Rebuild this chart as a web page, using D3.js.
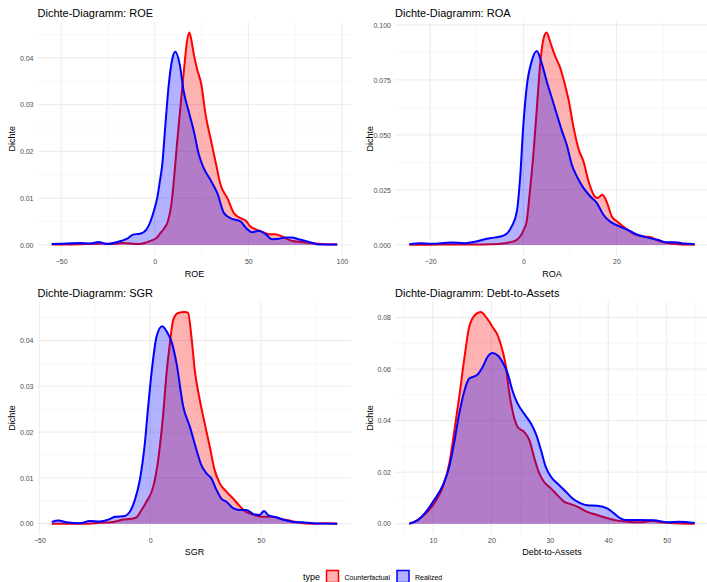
<!DOCTYPE html>
<html>
<head>
<meta charset="utf-8">
<script src="https://cdn.jsdelivr.net/npm/d3@7"></script>
<style>
  body { margin: 0; background: #fff; }
  svg { display: block; font-family: "Liberation Sans", Arial, sans-serif; }
</style>
</head>
<body>
<div id="chart-container"></div>
<script>
// density curves, [x, density]
const roeCounterfactual = [
  [-55, 0.0001], [-45, 0.0001], [-35, 0.0002], [-28, 0.0003], [-22, 0.0002], [-18, 0.0004],
  [-13, 0.0003], [-8, 0.0002], [-4, 0.0006], [-2, 0.0009], [1, 0.0015], [3, 0.0025],
  [5, 0.0035], [7, 0.005], [9, 0.009], [10.5, 0.015], [12, 0.0221], [13.5, 0.0285],
  [14.7, 0.0336], [16, 0.039], [17, 0.0428], [18.5, 0.0454], [19.5, 0.044], [20.9, 0.0407],
  [22.7, 0.0375], [24.9, 0.0343], [27.2, 0.0278], [29.8, 0.0228], [32.5, 0.0178], [35.2, 0.0128],
  [38.8, 0.01], [42.3, 0.0068], [45.9, 0.0057], [48.6, 0.0052], [51, 0.004], [54, 0.0033],
  [57.4, 0.0028], [61, 0.0023], [64.5, 0.0023], [68, 0.0018], [73, 0.0009], [78.6, 0.0006],
  [84, 0.0004], [89, 0.0002], [97.5, 0.0001]
];
const roeRealized = [
  [-55, 0.0002], [-47, 0.0003], [-40, 0.0004], [-34.5, 0.0003], [-30, 0.0006], [-25.6, 0.0002],
  [-20.3, 0.0006], [-15, 0.0013], [-11.5, 0.0022], [-8, 0.0024], [-5.9, 0.0027], [-3.5, 0.0039],
  [-2.3, 0.005], [-0.5, 0.0072], [1.3, 0.01], [2.7, 0.0135], [4, 0.0171], [5.7, 0.0257],
  [7.5, 0.0343], [9.3, 0.0396], [11, 0.0413], [13.4, 0.0385], [15.5, 0.0328], [18.2, 0.0285],
  [20.9, 0.0243], [23.6, 0.0193], [26.2, 0.0164], [29.8, 0.0139], [33.4, 0.0111], [37, 0.0068],
  [40.5, 0.0057], [45.9, 0.005], [48.6, 0.0037], [52, 0.0027], [55.7, 0.003], [59.2, 0.0023],
  [62.7, 0.0012], [66.3, 0.0013], [69.8, 0.0016], [73.3, 0.0016], [76.9, 0.0012], [82, 0.0007],
  [87.5, 0.0001], [97.5, 0.0001]
];
const roaCounterfactual = [
  [-24.5, 0.0001], [-20, 0.0001], [-15, 0.0002], [-10, 0.0002], [-7, 0.0003], [-4.9, 0.0005],
  [-2.9, 0.0012], [-1.5, 0.0022], [-0.7, 0.0038], [0, 0.0065], [0.7, 0.0106], [1.4, 0.0243],
  [2.2, 0.0425], [2.9, 0.0623], [3.6, 0.082], [4.3, 0.0935], [5, 0.0965], [5.8, 0.092],
  [6.8, 0.0859], [7.9, 0.0806], [9, 0.0722], [9.7, 0.0661], [10.8, 0.0532], [11.9, 0.0433],
  [12.9, 0.038], [14, 0.0289], [15.1, 0.0228], [15.8, 0.0213], [17, 0.0228], [18, 0.019],
  [19, 0.0129], [20.4, 0.0102], [22.4, 0.0068], [23.8, 0.0049], [26, 0.0038], [27.4, 0.0035],
  [28.9, 0.002], [31, 0.0008], [33.2, 0.0003], [36.8, 0.0001]
];
const roaRealized = [
  [-24.5, 0.0003], [-22, 0.0008], [-19.8, 0.0005], [-15.5, 0.0011], [-12.6, 0.0008], [-10.4, 0.0014],
  [-8.3, 0.0026], [-6.3, 0.0033], [-4.3, 0.0042], [-2.5, 0.0084], [-1.4, 0.0152], [-0.7, 0.0304],
  [0, 0.0547], [0.7, 0.0715], [1.8, 0.0836], [2.9, 0.0881], [3.8, 0.0836], [5, 0.0745],
  [6.1, 0.0669], [7.2, 0.0593], [8.3, 0.0517], [9.3, 0.0456], [10.4, 0.0365], [11.5, 0.0311],
  [12.9, 0.0259], [14.4, 0.022], [15.8, 0.019], [17.2, 0.0137], [18.6, 0.0106], [20.4, 0.0086],
  [22.4, 0.0068], [24.5, 0.0046], [26.7, 0.0033], [28.9, 0.0023], [30.7, 0.0012], [32.5, 0.0012],
  [34.6, 0.0006], [36.8, 0.0003]
];
const sgrCounterfactual = [
  [-44.4, 0], [-30.2, 0], [-22.7, 0.0002], [-16.7, 0.0004], [-12.2, 0.0009], [-8.4, 0.0011],
  [-6.2, 0.0014], [-3.9, 0.003], [-1.7, 0.0048], [1.4, 0.0081], [3.6, 0.0139], [5.9, 0.0241],
  [7.4, 0.0329], [8.9, 0.0394], [10.4, 0.0445], [12.6, 0.046], [15.6, 0.0462], [17.1, 0.046],
  [18.6, 0.0409], [20.1, 0.0336], [22.4, 0.027], [24.6, 0.0219], [26.9, 0.0168], [29.1, 0.0117],
  [31.4, 0.0088], [34.4, 0.007], [37.4, 0.0055], [39.6, 0.0043], [42.6, 0.0028], [46.4, 0.002],
  [50.9, 0.0015], [55.4, 0.0015], [58.4, 0.0011], [62.9, 0.0007], [67.4, 0.0002], [73.4, 0],
  [79.4, 0.0001], [84.4, 0]
];
const sgrRealized = [
  [-44.4, 0.0004], [-41.4, 0.0007], [-37.7, 0.0003], [-31.7, 0.0001], [-27.2, 0.0006], [-22.7, 0.0005],
  [-18.9, 0.0009], [-15.9, 0.0015], [-11.4, 0.0017], [-9.2, 0.0026], [-6.9, 0.0052], [-4.7, 0.0095],
  [-2.4, 0.0176], [-0.9, 0.0256], [1.1, 0.035], [2.9, 0.0409], [5.4, 0.0431], [7.4, 0.042],
  [9.6, 0.0398], [11.9, 0.035], [14.9, 0.0256], [17.9, 0.0212], [20.9, 0.0161], [23.1, 0.0128],
  [25.4, 0.011], [27.6, 0.0099], [29.9, 0.0074], [32.1, 0.0055], [34.4, 0.0048], [37.4, 0.0034],
  [40.4, 0.003], [43.4, 0.003], [47.1, 0.002], [49.4, 0.0019], [51.4, 0.0028], [53.2, 0.0019],
  [56.9, 0.0014], [60.7, 0.0008], [64.4, 0.0004], [68.9, 0.0003], [73.4, 0.0001], [84.4, 0]
];
const debtCounterfactual = [
  [5.95, 0], [7.4, 0.0014], [8.8, 0.004], [10.2, 0.0079], [11.7, 0.0143], [12.8, 0.0234],
  [13.6, 0.035], [14.5, 0.0492], [15.4, 0.0646], [16.2, 0.0763], [17.4, 0.0814], [18.2, 0.0821],
  [19.1, 0.0801], [20.2, 0.0763], [21.1, 0.073], [21.9, 0.0672], [22.5, 0.0608], [23, 0.0517],
  [23.6, 0.044], [24.5, 0.0375], [25.6, 0.0356], [26.5, 0.0324], [27.3, 0.0259], [28.2, 0.0195],
  [29, 0.0163], [30.2, 0.0137], [31.3, 0.0111], [32.5, 0.0085], [33.6, 0.0076], [34.7, 0.0066],
  [36.4, 0.0046], [38.1, 0.0034], [39.9, 0.0021], [41.6, 0.0012], [43.3, 0.0008], [45.6, 0.0006],
  [47.5, 0.0012], [49, 0.0006], [50.7, 0.0003], [54.8, 0]
];
const debtRealized = [
  [5.95, 0], [7.4, 0.0014], [8.8, 0.0046], [10.2, 0.0092], [11.7, 0.015], [12.8, 0.0221],
  [13.6, 0.0311], [14.5, 0.0427], [15.4, 0.0517], [16.2, 0.0563], [17.6, 0.0578], [18.5, 0.0608],
  [19.3, 0.0646], [20.2, 0.0662], [21.1, 0.0653], [21.9, 0.0627], [22.8, 0.0582], [23.6, 0.0517],
  [24.5, 0.0466], [25.6, 0.0427], [26.8, 0.0388], [27.6, 0.035], [28.5, 0.0285], [29.3, 0.0221],
  [30.2, 0.0182], [31.3, 0.0156], [32.5, 0.013], [33.9, 0.0098], [35.3, 0.0079], [36.4, 0.0072],
  [38.1, 0.007], [39.9, 0.0059], [41, 0.004], [42.1, 0.0021], [43, 0.0014], [45, 0.0014],
  [47.8, 0.0013], [50.1, 0.0006], [52.1, 0.0008], [54.8, 0.0003]
];

const types = ["Counterfactual", "Realized"];
const variables = ["ROE", "ROA", "SGR", "Debt-to-Assets"];

const roeXTicks = [-50, 0, 50, 100];
const roeYTicks = [0, 0.01, 0.02, 0.03, 0.04];
const roaXTicks = [-20, 0, 20];
const roaYTicks = [0, 0.025, 0.05, 0.075, 0.1];
const sgrXTicks = [-50, 0, 50];
const sgrYTicks = [0, 0.01, 0.02, 0.03, 0.04];
const debtXTicks = [10, 20, 30, 40, 50];
const debtYTicks = [0, 0.02, 0.04, 0.06, 0.08];

const width = 707;
const height = 582;
const colors = { Counterfactual: "#ff0000", Realized: "#0000ff" };

const panels = [
  { name: variables[0], series: [roeCounterfactual, roeRealized], xTicks: roeXTicks, yTicks: roeYTicks, yFmt: ".2f",
    box: { left: 37.5, right: 351.5, top: 22, bottom: 255.5 } },
  { name: variables[1], series: [roaCounterfactual, roaRealized], xTicks: roaXTicks, yTicks: roaYTicks, yFmt: ".3f",
    box: { left: 395, right: 709, top: 22, bottom: 255.5 } },
  { name: variables[2], series: [sgrCounterfactual, sgrRealized], xTicks: sgrXTicks, yTicks: sgrYTicks, yFmt: ".2f",
    box: { left: 37.5, right: 351.5, top: 301.5, bottom: 534.3 } },
  { name: variables[3], series: [debtCounterfactual, debtRealized], xTicks: debtXTicks, yTicks: debtYTicks, yFmt: ".2f",
    box: { left: 395, right: 709, top: 301.5, bottom: 534.3 } },
];

// minor breaks halfway between majors, kept inside the domain
function minorTicks(ticks, domain) {
  const step = ticks[1] - ticks[0];
  const out = [];
  for (let v = ticks[0] - step / 2; v <= domain[1]; v += step) {
    if (v >= domain[0]) out.push(v);
  }
  return out;
}

const svg = d3
  .select("#chart-container")
  .append("svg")
  .attr("width", width)
  .attr("height", height);

panels.forEach((p) => {
  const b = p.box;
  const all = p.series.flat();
  const [xmin, xmax] = d3.extent(all, (d) => d[0]);
  const ymax = d3.max(all, (d) => d[1]);
  const xpad = (xmax - xmin) * 0.05;
  const x = d3.scaleLinear().domain([xmin - xpad, xmax + xpad]).range([b.left, b.right]);
  const y = d3.scaleLinear().domain([-ymax * 0.05, ymax * 1.05]).range([b.bottom, b.top]);

  const g = svg.append("g");

  // grid
  minorTicks(p.xTicks, x.domain()).forEach((v) => {
    g.append("line").attr("x1", x(v)).attr("x2", x(v)).attr("y1", b.top).attr("y2", b.bottom)
      .attr("stroke", "#f2f2f2").attr("stroke-width", 0.6);
  });
  minorTicks(p.yTicks, y.domain()).forEach((v) => {
    g.append("line").attr("x1", b.left).attr("x2", b.right).attr("y1", y(v)).attr("y2", y(v))
      .attr("stroke", "#f2f2f2").attr("stroke-width", 0.6);
  });
  p.xTicks.forEach((v) => {
    g.append("line").attr("x1", x(v)).attr("x2", x(v)).attr("y1", b.top).attr("y2", b.bottom)
      .attr("stroke", "#ebebeb").attr("stroke-width", 1);
  });
  p.yTicks.forEach((v) => {
    g.append("line").attr("x1", b.left).attr("x2", b.right).attr("y1", y(v)).attr("y2", y(v))
      .attr("stroke", "#ebebeb").attr("stroke-width", 1);
  });

  const area = d3.area().x((d) => x(d[0])).y0(y(0)).y1((d) => y(d[1])).curve(d3.curveMonotoneX);
  const line = d3.line().x((d) => x(d[0])).y((d) => y(d[1])).curve(d3.curveMonotoneX);

  p.series.forEach((data, i) => {
    const c = colors[types[i]];
    g.append("path").datum(data).attr("fill", c).attr("fill-opacity", 0.3).attr("stroke", "none").attr("d", area);
    g.append("path").datum(data).attr("fill", "none").attr("stroke", c).attr("stroke-width", 2)
      .attr("stroke-linejoin", "round").attr("d", line);
  });

  // axes
  const xAxis = g.append("g")
    .attr("transform", `translate(0,${b.bottom})`)
    .call(d3.axisBottom(x).tickValues(p.xTicks).tickSize(0).tickPadding(4).tickFormat(d3.format("d")));
  const yAxis = g.append("g")
    .attr("transform", `translate(${b.left},0)`)
    .call(d3.axisLeft(y).tickValues(p.yTicks).tickSize(0).tickPadding(4).tickFormat(d3.format(p.yFmt)));
  xAxis.select(".domain").remove();
  yAxis.select(".domain").remove();
  [xAxis, yAxis].forEach((a) => {
    a.selectAll("text").attr("fill", "#4d4d4d").style("font-size", "7px")
      .style("font-family", "'Liberation Sans', Arial, sans-serif");
  });

  g.append("text")
    .attr("x", b.left).attr("y", b.top - 5)
    .attr("font-size", 11).attr("fill", "#000")
    .text(`Dichte-Diagramm: ${p.name}`);

  g.append("text")
    .attr("x", (b.left + Math.min(b.right, width - 7)) / 2 + (b.left > 300 ? 0 : 0))
    .attr("x", x((xmin + xmax) / 2))
    .attr("y", b.bottom + 21)
    .attr("text-anchor", "middle").attr("font-size", 9).attr("fill", "#000")
    .text(p.name);

  g.append("text")
    .attr("transform", `translate(${b.left - 22.5},${(b.top + b.bottom) / 2}) rotate(-90)`)
    .attr("text-anchor", "middle").attr("font-size", 9).attr("fill", "#000")
    .text("Dichte");
});

// legend
const legend = svg.append("g").attr("transform", "translate(303,0)");
legend.append("text").attr("x", 0).attr("y", 580).attr("font-size", 9).attr("fill", "#000").text("type");
const legendX = [23.5, 94];
types.forEach((t, i) => {
  legend.append("rect")
    .attr("x", legendX[i]).attr("y", 570.5).attr("width", 12).attr("height", 12)
    .attr("fill", colors[t]).attr("fill-opacity", 0.3)
    .attr("stroke", colors[t]).attr("stroke-width", 1.5);
  legend.append("text")
    .attr("x", legendX[i] + 18).attr("y", 579.5)
    .attr("font-size", 7).attr("fill", "#000")
    .text(t);
});
</script>
</body>
</html>
